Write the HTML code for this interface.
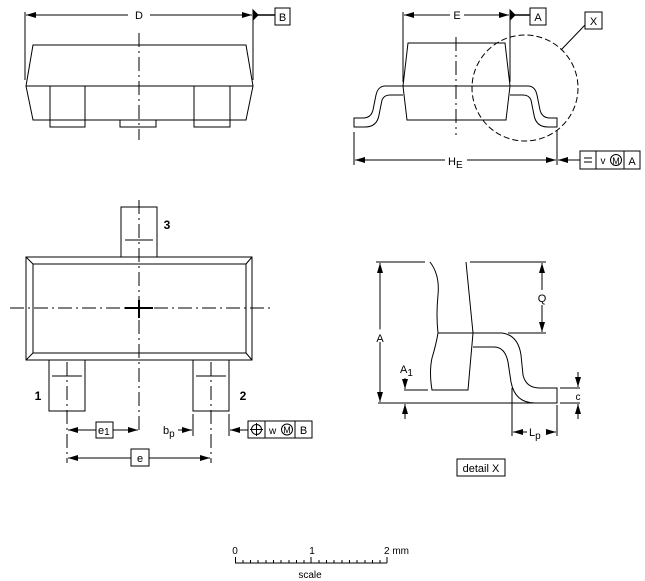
<!DOCTYPE html>
<html><head><meta charset="utf-8"><style>
html,body{margin:0;padding:0;background:#fff;}
svg{display:block;}
text{font-family:"Liberation Sans",sans-serif;fill:#000;}
</style></head><body>
<svg width="645" height="581" viewBox="0 0 645 581" xmlns="http://www.w3.org/2000/svg">
<defs>
<marker id="ar" viewBox="0 0 10 6" refX="10" refY="3" markerWidth="10" markerHeight="6" orient="auto-start-reverse" markerUnits="userSpaceOnUse"><path d="M0,0 L10,3 L0,6 z" fill="#000"/></marker>
</defs>
<g fill="none" stroke="#000" stroke-width="1">
<line x1="25" y1="12" x2="25" y2="80"/>
<line x1="253" y1="12" x2="253" y2="80"/>
<line x1="26" y1="15" x2="128" y2="15" marker-start="url(#ar)"/>
<line x1="150" y1="15" x2="252" y2="15" marker-end="url(#ar)"/>
<line x1="253" y1="15" x2="275" y2="15" stroke-width="1.5"/>
<path d="M253,10 L258,15 L253,20 z" fill="#000"/>
<rect x="275" y="8" width="15" height="17"/>
<path d="M33,45 L246,45 L253,86 L246,120 L33,120 L26,86 z"/>
<line x1="26" y1="86" x2="253" y2="86"/>
<rect x="50" y="86" width="35" height="41"/><line x1="50" y1="120" x2="85" y2="120"/>
<rect x="194" y="86" width="36" height="41"/><line x1="194" y1="120" x2="230" y2="120"/>
<rect x="120" y="120" width="36" height="7"/>
<line x1="139" y1="33" x2="139" y2="140" stroke-dasharray="14,4,2,4"/>
<line x1="403" y1="12" x2="403" y2="82"/>
<line x1="510" y1="12" x2="510" y2="82"/>
<line x1="404" y1="15" x2="450" y2="15" marker-start="url(#ar)"/>
<line x1="464" y1="15" x2="509" y2="15" marker-end="url(#ar)"/>
<line x1="510" y1="15" x2="530" y2="15" stroke-width="1.5"/>
<path d="M510,10 L515,15 L510,20 z" fill="#000"/>
<rect x="530" y="8" width="16" height="17"/>
<path d="M408,43 L505,43 L510,86 L506,120 L407,120 L403,86 z"/>
<line x1="403" y1="86" x2="510" y2="86"/>
<path d="M403,86 L385,86 Q378,86 376,95 L373,110 Q371,118 363,118 L354,118 L354,127 L365,127 Q377,127 379,115 L382,100 Q384,95 390,95 L403,95"/>
<path d="M510,86 L528,86 Q535,86 537,95 L540,110 Q542,118 550,118 L557,118 L557,127 L548,127 Q536,127 534,115 L531,100 Q529,95 523,95 L510,95"/>
<line x1="456" y1="37" x2="456" y2="135" stroke-dasharray="14,4,2,4"/>
<circle cx="525" cy="88" r="53" stroke-dasharray="6,3"/>
<line x1="561" y1="50" x2="585" y2="25"/>
<rect x="585" y="12" width="17" height="17"/>
<line x1="354" y1="132" x2="354" y2="165"/>
<line x1="557" y1="130" x2="557" y2="165"/>
<line x1="355" y1="160" x2="445" y2="160" marker-start="url(#ar)"/>
<line x1="467" y1="160" x2="556" y2="160" marker-end="url(#ar)"/>
<line x1="558" y1="160" x2="580" y2="160" marker-start="url(#ar)"/>
<rect x="580" y="151" width="60" height="18"/>
<line x1="596" y1="151" x2="596" y2="169"/><line x1="624" y1="151" x2="624" y2="169"/>
<line x1="584" y1="158" x2="592" y2="158"/><line x1="584" y1="162" x2="592" y2="162"/>
<circle cx="616" cy="160" r="5.5"/>
<rect x="121" y="207" width="36" height="50"/>
<line x1="125" y1="240" x2="153" y2="240"/>
<rect x="26" y="257" width="226" height="103"/>
<rect x="33" y="264" width="213" height="89"/>
<line x1="26" y1="257" x2="33" y2="264"/><line x1="252" y1="257" x2="246" y2="264"/>
<line x1="26" y1="360" x2="33" y2="353"/><line x1="252" y1="360" x2="246" y2="353"/>
<line x1="10" y1="308" x2="270" y2="308" stroke-dasharray="14,4,2,4"/>
<line x1="139" y1="200" x2="139" y2="432" stroke-dasharray="14,4,2,4"/>
<line x1="125" y1="308" x2="153" y2="308" stroke-width="2"/>
<line x1="139" y1="300" x2="139" y2="318" stroke-width="2"/>
<rect x="49" y="360" width="36" height="51"/>
<line x1="52" y1="376" x2="82" y2="376"/>
<line x1="67" y1="362" x2="67" y2="463" stroke-dasharray="14,4,2,4"/>
<rect x="193" y="360" width="36" height="51"/>
<line x1="196" y1="376" x2="226" y2="376"/>
<line x1="211" y1="362" x2="211" y2="463" stroke-dasharray="14,4,2,4"/>
<line x1="68" y1="430" x2="96" y2="430" marker-start="url(#ar)"/>
<line x1="113" y1="430" x2="138" y2="430" marker-end="url(#ar)"/>
<rect x="96" y="422" width="17" height="16"/>
<line x1="193" y1="414" x2="193" y2="436"/>
<line x1="229" y1="414" x2="229" y2="436"/>
<line x1="178" y1="430" x2="192" y2="430" marker-end="url(#ar)"/>
<line x1="230" y1="430" x2="248" y2="430" marker-start="url(#ar)"/>
<rect x="248" y="421" width="64" height="17"/>
<line x1="265" y1="421" x2="265" y2="438"/><line x1="295" y1="421" x2="295" y2="438"/>
<circle cx="256.5" cy="429.5" r="5"/><line x1="250" y1="429.5" x2="263" y2="429.5"/><line x1="256.5" y1="423" x2="256.5" y2="436"/>
<circle cx="287" cy="429.5" r="5.5"/>
<line x1="68" y1="458" x2="131" y2="458" marker-start="url(#ar)"/>
<line x1="149" y1="458" x2="210" y2="458" marker-end="url(#ar)"/>
<rect x="131" y="449" width="18" height="17"/>
<line x1="376" y1="262" x2="425" y2="262"/>
<line x1="470" y1="262" x2="546" y2="262"/>
<line x1="380" y1="263" x2="380" y2="402" marker-start="url(#ar)" marker-end="url(#ar)"/>
<line x1="378" y1="403" x2="556" y2="403"/>
<path d="M430,262 Q440,275 438,295 Q436,315 438,333 Q436,345 432,358 Q429,372 432,390 L468,390 L473,333 L466,262"/>
<line x1="438" y1="333" x2="473" y2="333"/>
<line x1="508" y1="333" x2="546" y2="333"/>
<line x1="542" y1="263" x2="542" y2="290" marker-start="url(#ar)"/>
<line x1="542" y1="305" x2="542" y2="332" marker-end="url(#ar)"/>
<path d="M473,333 L502,333 Q518,335 521,355 L523,375 Q526,388 540,388 L557,388 L557,403 L535,403 Q515,403 511,382 L508,362 Q505,347 494,347 L473,347"/>
<line x1="512" y1="388" x2="512" y2="436"/>
<line x1="557" y1="405" x2="557" y2="436"/>
<line x1="513" y1="432" x2="527" y2="432" marker-start="url(#ar)"/>
<line x1="546" y1="432" x2="556" y2="432" marker-end="url(#ar)"/>
<line x1="560" y1="388" x2="580" y2="388"/>
<line x1="560" y1="403" x2="580" y2="403"/>
<line x1="578" y1="372" x2="578" y2="387" marker-end="url(#ar)"/>
<line x1="578" y1="419" x2="578" y2="404" marker-end="url(#ar)"/>
<line x1="405" y1="378" x2="405" y2="389" marker-end="url(#ar)"/>
<line x1="404" y1="390" x2="428" y2="390"/>
<line x1="405" y1="419" x2="405" y2="404" marker-end="url(#ar)"/>
<rect x="457" y="459" width="48" height="17"/>
<path d="M235,563 L387,563"/>
<path d="M235.5,557 V563 M311,557 V563 M387,557 V563 M243,560V563 M250.5,560V563 M258,560V563 M266,560V563 M273.5,560V563 M281,560V563 M289,560V563 M296.5,560V563 M304,560V563 M319,560V563 M326.5,560V563 M334,560V563 M342,560V563 M349.5,560V563 M357,560V563 M365,560V563 M372.5,560V563 M380,560V563"/>
</g>
<g font-size="11">
<text x="139" y="19" text-anchor="middle">D</text>
<text x="282.5" y="21" text-anchor="middle">B</text>
<text x="457" y="19" text-anchor="middle">E</text>
<text x="538" y="21" text-anchor="middle">A</text>
<text x="593.5" y="25" text-anchor="middle">X</text>
<text x="448" y="165">H<tspan font-size="10" dy="3">E</tspan></text>
<text x="603" y="164" text-anchor="middle" font-size="10">v</text>
<text x="616" y="164" text-anchor="middle" font-size="9">M</text>
<text x="632" y="165" text-anchor="middle">A</text>
<text x="167" y="229" text-anchor="middle" font-weight="bold" font-size="12">3</text>
<text x="38" y="400" text-anchor="middle" font-weight="bold" font-size="12">1</text>
<text x="243" y="400" text-anchor="middle" font-weight="bold" font-size="12">2</text>
<text x="98" y="434">e<tspan font-size="10" dy="1">1</tspan></text>
<text x="163" y="434">b<tspan font-size="10" dy="3">p</tspan></text>
<text x="269" y="434" font-size="10">w</text>
<text x="287" y="433" text-anchor="middle" font-size="9">M</text>
<text x="303.5" y="434" text-anchor="middle">B</text>
<text x="140" y="462" text-anchor="middle">e</text>
<text x="380" y="342" text-anchor="middle" font-size="11" style="paint-order:stroke" stroke="#fff" stroke-width="4">A</text>
<text x="542" y="302" text-anchor="middle">Q</text>
<text x="400" y="373">A<tspan font-size="10" dy="3">1</tspan></text>
<text x="578" y="400" text-anchor="middle" font-size="10">c</text>
<text x="529" y="436">L<tspan font-size="10" dy="3">p</tspan></text>
<text x="481" y="472" text-anchor="middle">detail X</text>
<text x="235" y="554" text-anchor="middle" font-size="10">0</text>
<text x="312" y="554" text-anchor="middle" font-size="10">1</text>
<text x="384" y="554" font-size="10">2 mm</text>
<text x="310" y="578" text-anchor="middle" font-size="10">scale</text>
</g>
</svg>
</body></html>
